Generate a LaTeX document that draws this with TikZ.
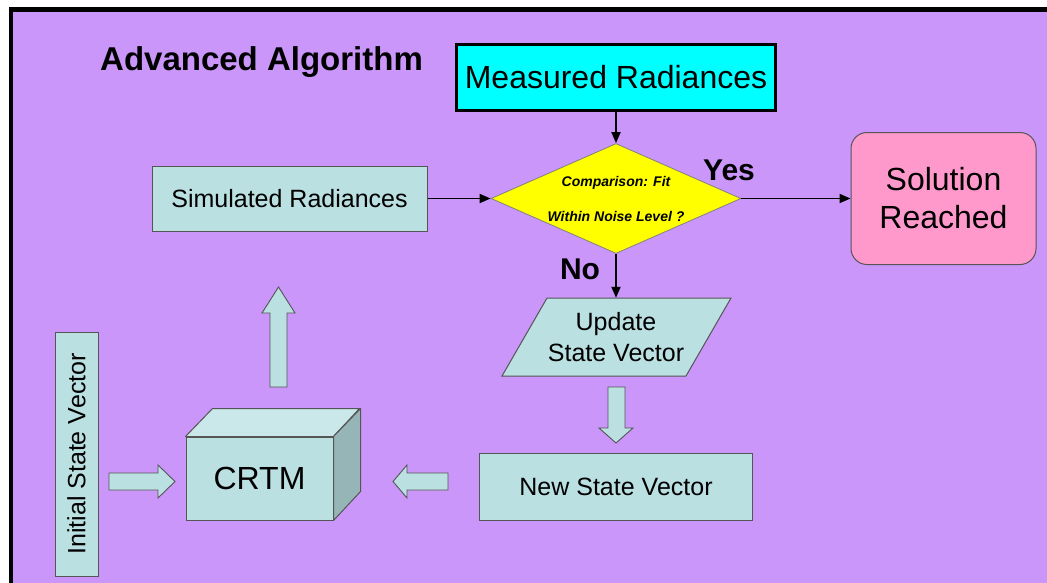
\documentclass[tikz,border=0pt]{standalone}
\usepackage{fontspec}
\setmainfont{Liberation Sans}
\usetikzlibrary{shapes.geometric,arrows.meta}
\definecolor{bgpurple}{RGB}{202,150,250}
\definecolor{boxblue}{RGB}{186,224,226}
\definecolor{boxtop}{RGB}{202,231,233}
\definecolor{boxside}{RGB}{150,181,183}
\definecolor{pinkbox}{RGB}{255,153,204}
\definecolor{edgegray}{RGB}{85,85,85}
\definecolor{brightcyan}{RGB}{0,255,255}
\definecolor{brightyellow}{RGB}{255,255,0}
\begin{document}
\begin{tikzpicture}[x=1pt,y=-1pt,
  lbox/.style={draw=edgegray, line width=1pt, fill=boxblue, inner sep=0pt, align=center, font=\fontsize{25}{31}\selectfont},
  conn/.style={-{Triangle[length=11pt,width=9pt]}, line width=1.9pt, black},
  blockarrow/.style={draw=edgegray, line width=0.9pt, fill=boxblue, line join=miter},
  bigtext/.style={font=\fontsize{32}{38}\selectfont},
  label/.style={font=\bfseries\fontsize{30}{36}\selectfont, inner sep=0pt}]
\useasboundingbox (0,0) rectangle (1047,582);
\fill[white] (0,0) rectangle (1047,582);
\begin{scope}
\clip (0,0) rectangle (1047,582);
\draw[line width=4.5pt, fill=bgpurple] (11,9.5) rectangle (1070,610);
\end{scope}

\node[anchor=base west, inner sep=0pt, font=\bfseries\fontsize{33}{39}\selectfont] (title) at (100,70) {Advanced Algorithm};

\node[draw=black, line width=3pt, fill=brightcyan, minimum width=319pt, minimum height=66pt, inner sep=0pt, bigtext] (meas) at (616,77.5) {Measured Radiances};

\node[diamond, draw=gray, line width=0.8pt, fill=brightyellow, minimum width=250pt, minimum height=110pt, inner sep=0pt, aspect=2.27, align=center, font=\bfseries\itshape\fontsize{14}{35}\selectfont] (cmp) at (616,198.5) {Comparison: Fit\\Within Noise Level ?};

\node[lbox, minimum width=275pt, minimum height=65pt] (sim) at (289.5,198.5) {Simulated Radiances};

\node[draw=edgegray, line width=1pt, fill=pinkbox, rounded corners=16pt, minimum width=185pt, minimum height=132pt, align=center, bigtext] (sol) at (943.5,198.5) {Solution\\Reached};

\draw[draw=edgegray, line width=1pt, fill=boxblue] (547,298) -- (731,298) -- (686,376) -- (502,376) -- cycle;
\node[minimum width=229pt, minimum height=78pt, inner sep=0pt, align=center, font=\fontsize{25}{31}\selectfont] (upd) at (616,337) {Update\\State Vector};

\node[lbox, minimum width=273pt, minimum height=67pt] (nsv) at (616,487) {New State Vector};

\node[lbox, rotate=90, minimum width=244pt, minimum height=43pt] (isv) at (76.5,454) {Initial State Vector};

\node[lbox, minimum width=147pt, minimum height=83pt, bigtext] (crtm) at (259.5,478.5) {CRTM};
\draw[draw=edgegray, line width=1pt, fill=boxtop, line join=round] (crtm.north west) -- ++(27,-28) -- ++(147,0) -- (crtm.north east) -- cycle;
\draw[draw=edgegray, line width=1pt, fill=boxside, line join=round] (crtm.north east) -- ++(27,-28) -- ++(0,83) -- (crtm.south east) -- cycle;

% block arrows
\draw[blockarrow] (270,387) -- (270,313) -- (262,313) -- (278.5,287) -- (295,313) -- (287,313) -- (287,387) -- cycle;
\draw[blockarrow] (109,473) -- (158,473) -- (158,465) -- (175,481.5) -- (158,498) -- (158,490) -- (109,490) -- cycle;
\draw[blockarrow] (448,473) -- (407,473) -- (407,465) -- (393,481.5) -- (407,498) -- (407,490) -- (448,490) -- cycle;
\draw[blockarrow] (608,387) -- (625,387) -- (625,428) -- (633,428) -- (616,443) -- (599,428) -- (608,428) -- cycle;

% connectors
\draw[conn] (meas.south) -- (cmp.north);
\draw[conn] (sim.east) -- (cmp.west);
\draw[conn] (cmp.east) -- (sol.west);
\draw[conn] (cmp.south) -- (upd.north);

\node[label] (yes) at (729,170) {Yes};
\node[label] (no) at (580,269) {No};
\end{tikzpicture}
\end{document}
